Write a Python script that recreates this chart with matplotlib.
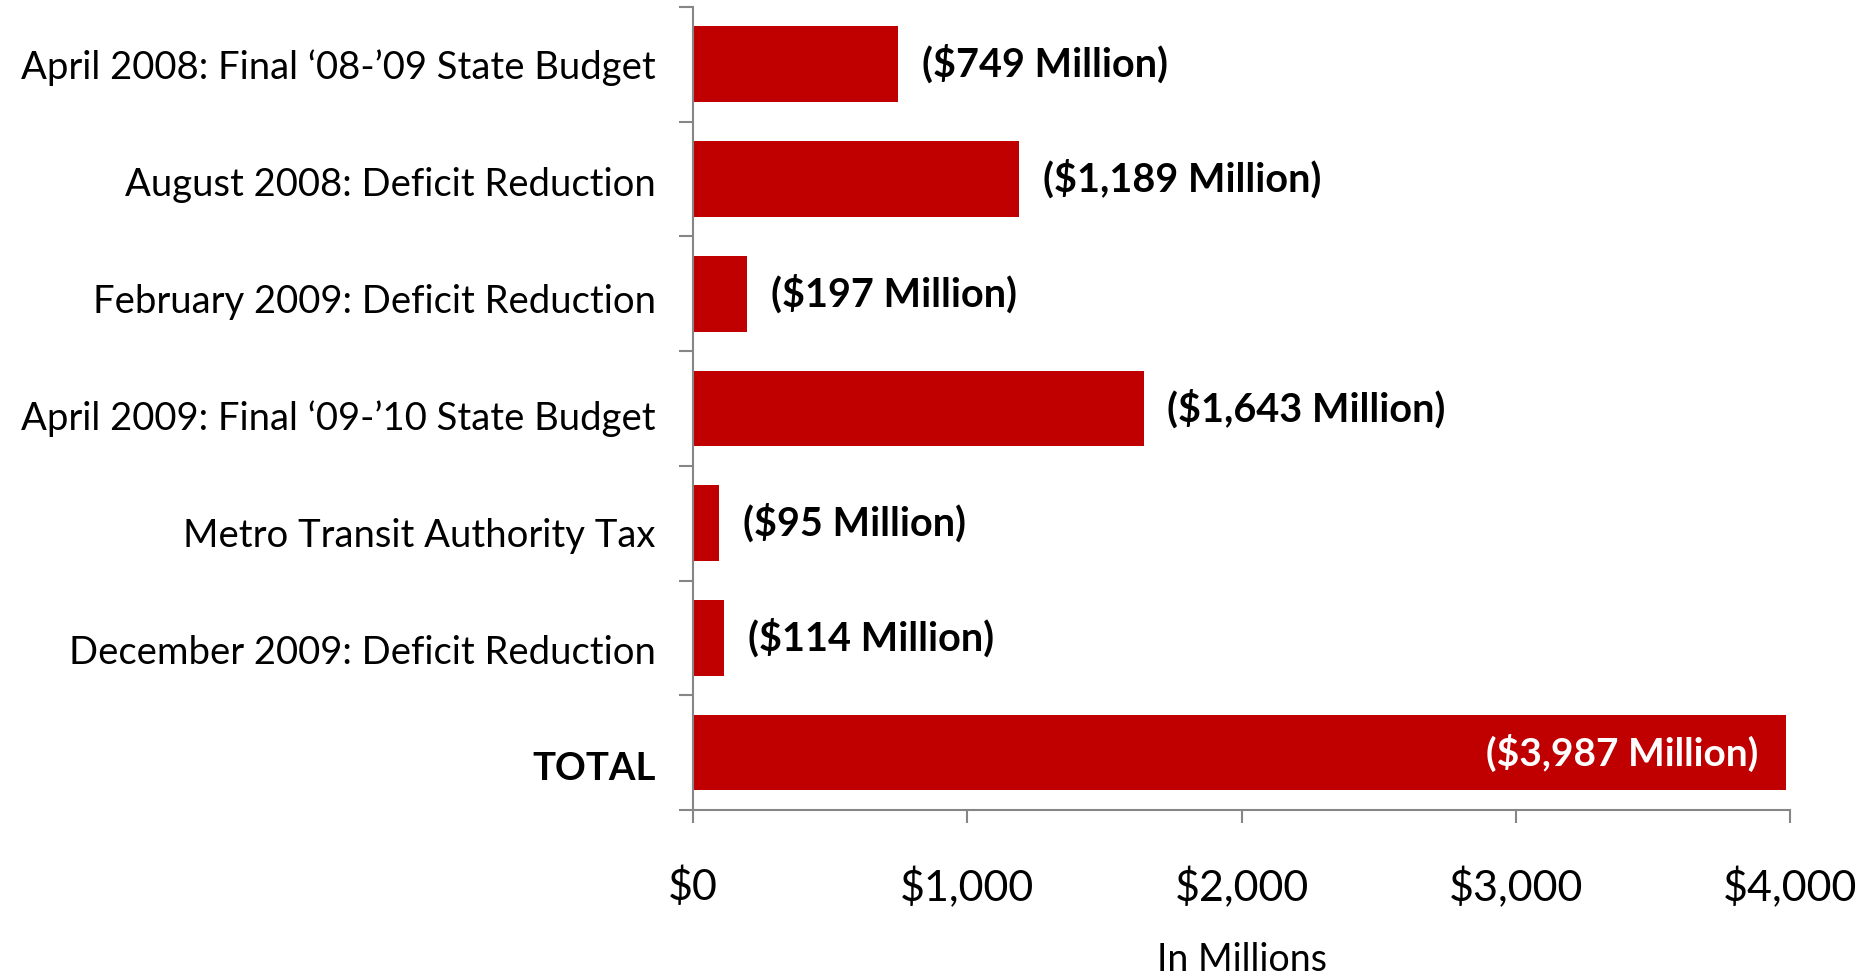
import numpy as np
import matplotlib.pyplot as plt
import matplotlib.ticker as mticker

plt.rcParams['font.family'] = ['Lato', 'DejaVu Sans']

categories = [
    'April 2008: Final \u201808-\u201909 State Budget',
    'August 2008: Deficit Reduction',
    'February 2009: Deficit Reduction',
    'April 2009: Final \u201809-\u201910 State Budget',
    'Metro Transit Authority Tax',
    'December 2009: Deficit Reduction',
    'TOTAL',
]
values = [749, 1189, 197, 1643, 95, 114, 3987]
value_labels = ['($749 Million)', '($1,189 Million)', '($197 Million)', '($1,643 Million)',
                '($95 Million)', '($114 Million)', '($3,987 Million)']
xticks = [0, 1000, 2000, 3000, 4000]

red = '#C00000'
grey = '#868686'

fig = plt.figure(figsize=(18.65, 9.8), dpi=100)
ax = fig.add_axes([0.3716, 0.1735, 0.5882, 0.8194])

n = len(categories)
ypos = np.arange(n)
ax.barh(ypos, values, height=0.66, color=red, zorder=2)
ax.set_ylim(n - 0.5, -0.5)
ax.set_xlim(0, 4000)

for i, (v, lab) in enumerate(zip(values, value_labels)):
    if i == n - 1:
        ax.annotate(lab, (v, i), xytext=(-20, 0), textcoords='offset points',
                    ha='right', va='center', color='white', fontsize=28, fontweight='bold')
    else:
        ax.annotate(lab, (v, i), xytext=(17, 0), textcoords='offset points',
                    ha='left', va='center', color='black', fontsize=28.5, fontweight='bold')

# category boundaries as major ticks, names on minor ticks
ax.set_yticks(np.arange(-0.5, n, 1.0))
ax.set_yticklabels([])
ax.set_yticks(ypos * 1.02, minor=True)
ax.set_yticklabels(categories, minor=True, fontsize=27.5)
ax.tick_params(axis='y', which='major', length=10, width=1.5, color=grey, direction='out')
ax.tick_params(axis='y', which='minor', length=0, pad=27)
ax.get_yticklabels(minor=True)[-1].set_fontweight('bold')

ax.set_xticks(xticks)
ax.xaxis.set_major_formatter(mticker.FuncFormatter(lambda x, p: '${:,.0f}'.format(x)))
ax.tick_params(axis='x', length=9, width=1.5, color=grey, direction='out', labelsize=31, pad=32)
ax.set_xlabel('In Millions', fontsize=27, labelpad=24)

for s in ['top', 'right']:
    ax.spines[s].set_visible(False)
for s in ['left', 'bottom']:
    ax.spines[s].set_color(grey)
    ax.spines[s].set_linewidth(1.5)

plt.savefig('out.png')
plt.close('all')
